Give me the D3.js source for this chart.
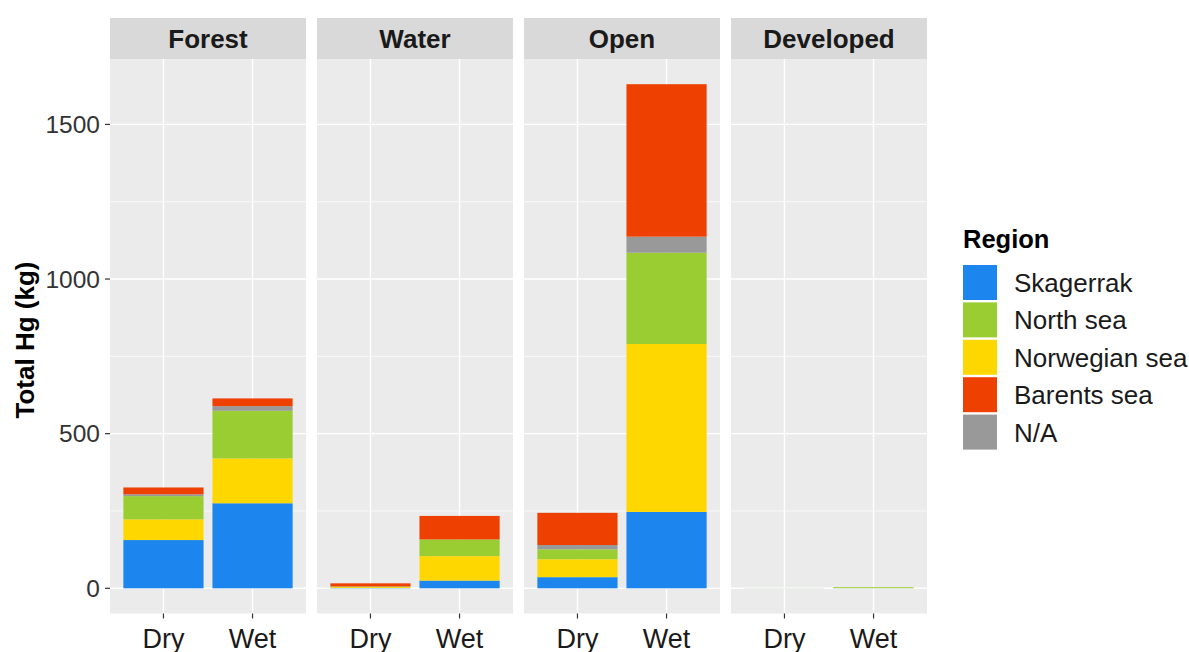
<!DOCTYPE html>
<html>
<head>
<meta charset="utf-8">
<script src="https://cdn.jsdelivr.net/npm/d3@7"></script>
<style>
  body { margin: 0; background: #fff; }
  text { font-family: "Liberation Sans", Arial, sans-serif; }
</style>
</head>
<body>
<svg id="chart"></svg>
<script>
// categories
var landcover = ['Forest', 'Water', 'Open', 'Developed'];
var seasons = ['Dry', 'Wet'];
var regions = ['Skagerrak', 'North sea', 'Norwegian sea', 'Barents sea', 'N/A'];
var yTicks = [0, 500, 1000, 1500];

// values per region, order: Forest Dry, Forest Wet, Water Dry, Water Wet, Open Dry, Open Wet, Developed Dry, Developed Wet
var skagerrak    = [156, 275, 1, 25, 36, 247, 0.2, 0.5];
var northSea     = [75, 154, 2, 54, 32, 295, 0.2, 2.5];
var norwegianSea = [67, 145, 3, 79, 58, 543, 0.1, 1];
var barentsSea   = [22, 25, 10, 76, 104, 493, 0, 0];
var notAssigned  = [6, 15, 0, 0, 14, 52, 0, 0];

var colors = {
    'Skagerrak': '#1C86EE',
    'North sea': '#9ACD32',
    'Norwegian sea': '#FFD700',
    'Barents sea': '#EE4000',
    'N/A': '#999999'
};

// stacking order bottom -> top as in the figure
var stackKeys = ['Skagerrak', 'Norwegian sea', 'North sea', 'N/A', 'Barents sea'];

var rows = [];
landcover.forEach(function(lc, i) {
    seasons.forEach(function(s, j) {
        var k = i * 2 + j;
        rows.push({
            landcover: lc, season: s,
            'Skagerrak': skagerrak[k],
            'North sea': northSea[k],
            'Norwegian sea': norwegianSea[k],
            'Barents sea': barentsSea[k],
            'N/A': notAssigned[k]
        });
    });
});

var width = 1189, height = 652;
var svg = d3.select('#chart').attr('width', width).attr('height', height);

var panelLeft = 110, panelW = 196, panelGap = 11;
var panelTop = 59, panelBottom = 613.5;
var stripTop = 18;

var stacked = d3.stack().keys(stackKeys)(rows);
var yMax = d3.max(rows, function(d) { return d3.sum(stackKeys, function(k) { return d[k]; }); });
var y = d3.scaleLinear()
    .domain([-0.05 * yMax, 1.05 * yMax])
    .range([panelBottom, panelTop]);

var panelX = d3.scaleBand().domain(landcover)
    .range([panelLeft, panelLeft + 4 * panelW + 3 * panelGap])
    .paddingInner(panelGap / (panelW + panelGap));

// discrete x inside a panel: positions 1,2 with 0.6 expansion
var xPos = d3.scaleLinear().domain([0.4, 2.6]).range([0, panelW]);
var barW = xPos(1.45) - xPos(0.55);

var minorTicks = [250, 750, 1250];

landcover.forEach(function(lc) {
    var g = svg.append('g').attr('transform', 'translate(' + panelX(lc) + ',0)');
    g.append('rect').attr('x', 0).attr('y', panelTop).attr('width', panelW)
        .attr('height', panelBottom - panelTop).attr('fill', '#EBEBEB');
    g.selectAll('.minor').data(minorTicks).enter().append('line')
        .attr('x1', 0).attr('x2', panelW)
        .attr('y1', function(d) { return y(d); }).attr('y2', function(d) { return y(d); })
        .attr('stroke', '#fff').attr('stroke-width', 0.7);
    g.selectAll('.major').data(yTicks).enter().append('line')
        .attr('x1', 0).attr('x2', panelW)
        .attr('y1', function(d) { return y(d); }).attr('y2', function(d) { return y(d); })
        .attr('stroke', '#fff').attr('stroke-width', 1.4);
    seasons.forEach(function(s, j) {
        var cx = xPos(j + 1);
        g.append('line').attr('x1', cx).attr('x2', cx).attr('y1', panelTop).attr('y2', panelBottom)
            .attr('stroke', '#fff').attr('stroke-width', 1.4);
        g.append('line').attr('x1', cx).attr('x2', cx).attr('y1', panelBottom).attr('y2', panelBottom + 5)
            .attr('stroke', '#333').attr('stroke-width', 1.2);
        g.append('text').attr('x', cx).attr('y', panelBottom + 34)
            .attr('text-anchor', 'middle').attr('font-size', 27).attr('fill', '#1a1a1a')
            .text(s);
    });

    // strip
    g.append('rect').attr('x', 0).attr('y', stripTop).attr('width', panelW)
        .attr('height', panelTop - stripTop).attr('fill', '#D9D9D9');
    g.append('text').attr('x', panelW / 2).attr('y', (stripTop + panelTop) / 2 + 9.5)
        .attr('text-anchor', 'middle').attr('font-size', 26).attr('font-weight', 'bold')
        .attr('fill', '#1a1a1a').text(lc);

    // bars
    stacked.forEach(function(layer) {
        layer.forEach(function(seg) {
            if (seg.data.landcover !== lc) return;
            var j = seasons.indexOf(seg.data.season);
            var h = y(seg[0]) - y(seg[1]);
            if (h <= 0) return;
            g.append('rect')
                .attr('x', xPos(j + 1) - barW / 2)
                .attr('y', y(seg[1]))
                .attr('width', barW)
                .attr('height', h)
                .attr('fill', colors[layer.key]);
        });
    });
});

// y axis
var yAxis = svg.append('g');
yTicks.forEach(function(t) {
    yAxis.append('line').attr('x1', panelLeft - 5).attr('x2', panelLeft)
        .attr('y1', y(t)).attr('y2', y(t)).attr('stroke', '#333').attr('stroke-width', 1.2);
    yAxis.append('text').attr('x', panelLeft - 10).attr('y', y(t) + 8.5)
        .attr('text-anchor', 'end').attr('font-size', 24.5).attr('fill', '#333')
        .text(t);
});
svg.append('text')
    .attr('transform', 'translate(34,340) rotate(-90)')
    .attr('text-anchor', 'middle').attr('font-size', 26).attr('font-weight', 'bold')
    .attr('fill', '#000').text('Total Hg (kg)');

// legend
var legend = svg.append('g').attr('transform', 'translate(963,0)');
legend.append('text').attr('x', 0).attr('y', 248).attr('font-size', 25.5)
    .attr('font-weight', 'bold').attr('fill', '#000').text('Region');
regions.forEach(function(r, i) {
    var top = 265 + i * 37.4;
    legend.append('rect').attr('x', 0).attr('y', top).attr('width', 34).attr('height', 35)
        .attr('fill', colors[r]);
    legend.append('text').attr('x', 51).attr('y', top + 27).attr('font-size', 26)
        .attr('fill', '#1a1a1a').text(r);
});
</script>
</body>
</html>
